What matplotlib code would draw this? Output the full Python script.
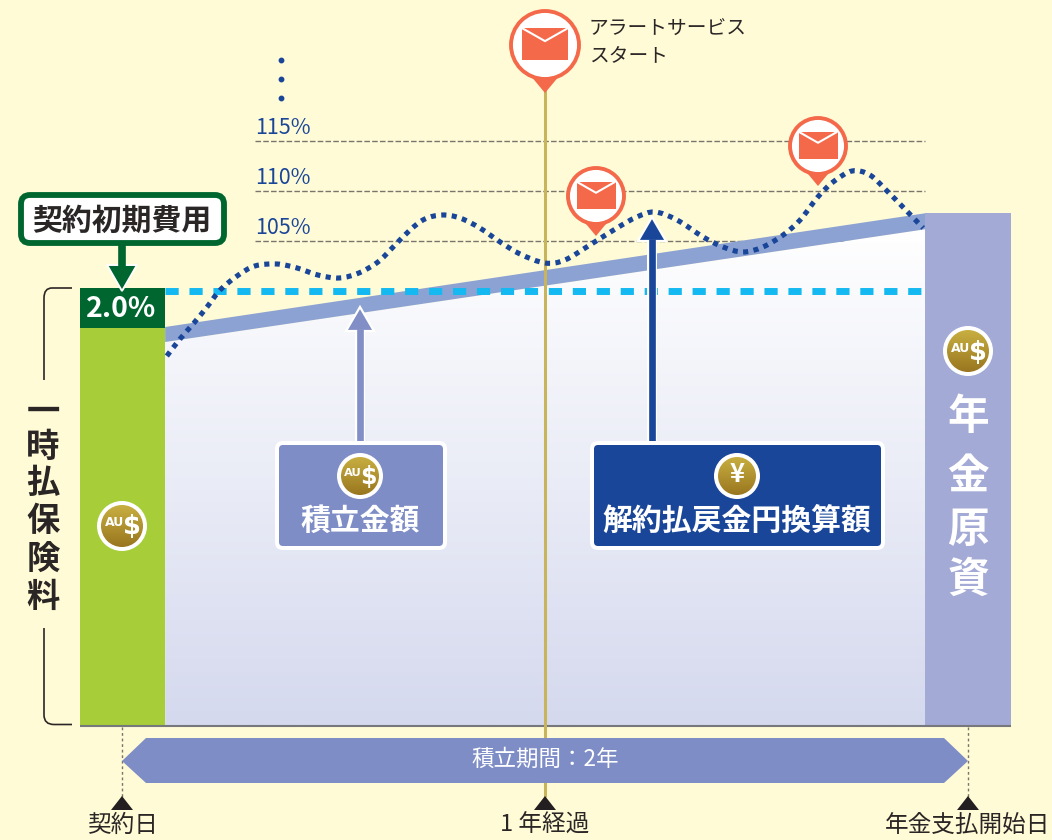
#Pension chart recreated on a pixel grid, curve kept as year / percent values
import numpy as np
import matplotlib
matplotlib.use("Agg")
import matplotlib.pyplot as plt
from matplotlib.patches import Polygon, Circle, FancyBboxPatch, Rectangle, PathPatch
from matplotlib.path import Path

plt.rcParams['font.family'] = ['Noto Sans CJK JP', 'DejaVu Sans']

# data
refund_years = [0.106, 0.137, 0.170, 0.201, 0.232, 0.272, 0.314, 0.366, 0.414, 0.463, 0.513,
                0.560, 0.605, 0.641, 0.681, 0.716, 0.757, 0.799, 0.846, 0.894, 0.941, 1.000,
                1.047, 1.106, 1.170, 1.217, 1.260, 1.312, 1.374, 1.421, 1.468, 1.515, 1.563,
                1.603, 1.645, 1.681, 1.726, 1.768, 1.811, 1.846, 1.894]
refund_pct = [93.5, 95.2, 96.8, 98.4, 100.1, 101.5, 102.5, 102.7, 102.3, 101.6, 101.3,
              101.8, 102.9, 104.4, 106.1, 107.2, 107.6, 107.3, 106.3, 104.9, 103.7, 102.8,
              103.1, 104.6, 106.3, 107.4, 107.9, 107.1, 105.4, 104.4, 103.9, 104.4, 105.6,
              107.1, 109.4, 110.9, 112.0, 111.6, 109.9, 108.4, 106.3]
level_pct = [105, 110, 115]
level_labels = ['105%', '110%', '115%']
saved_years = [0.102, 1.903]
saved_top_pct = [96.4, 107.8]
saved_bottom_pct = [94.9, 106.2]
time_years = [0, 1, 2]
time_labels = ['契約日', '1 年経過', '年金支払開始日']
side_word = '一時払保険料'
base_word = '年金原資'

BG = '#fffbd6'
GREEN = '#a7ce38'
DARK_GREEN = '#00662f'
NAVY = '#1a4699'
PERIWINKLE = '#7e8dc6'
BAND = '#8ca2d2'
RIGHT_BAR = '#a3aad6'
ORANGE = '#f4694a'
INK = '#2b2626'


def x_of(year):
    return 122 + np.asarray(year) * 423


def y_of(pct):
    return 291 - (np.asarray(pct) - 100) * 10


def smooth_path(x, y):
    # bezier pieces through the read points, no extra points are invented for the data
    pts = np.column_stack([x, y])
    verts = [pts[0]]
    codes = [Path.MOVETO]
    for i in range(len(pts) - 1):
        before = pts[max(i - 1, 0)]
        after = pts[min(i + 2, len(pts) - 1)]
        verts += [pts[i] + (pts[i + 1] - before) / 6, pts[i + 1] - (after - pts[i]) / 6, pts[i + 1]]
        codes += [Path.CURVE4] * 3
    return Path(verts, codes)


def gradient(ax, extent, top, bottom, clip, zorder):
    c1 = np.array(matplotlib.colors.to_rgb(top))
    c2 = np.array(matplotlib.colors.to_rgb(bottom))
    t = np.linspace(0, 1, 256)[:, None, None]
    img = c1[None, None, :] * (1 - t) + c2[None, None, :] * t
    im = ax.imshow(img, extent=extent, aspect='auto', zorder=zorder, interpolation='bilinear')
    im.set_clip_path(clip)


def coin(ax, cx, cy, r, kind='au'):
    ax.add_patch(Circle((cx, cy), r, fc='white', ec='none', zorder=12))
    c = Circle((cx, cy), r - 4, fc='none', ec='none', zorder=12)
    ax.add_patch(c)
    gradient(ax, [cx - r, cx + r, cy + r, cy - r], '#cdb544', '#94701c', c, 13)
    if kind == 'au':
        ax.text(cx - r * 0.30, cy - r * 0.12, 'AU', color='white', fontsize=r * 0.36, weight='bold',
                ha='center', va='center', zorder=14, family='DejaVu Sans')
        ax.text(cx + r * 0.38, cy + r * 0.06, '$', color='white', fontsize=r * 0.74, weight='bold',
                ha='center', va='center', zorder=14, family='DejaVu Sans')
    else:
        ax.text(cx, cy - 1, '¥', color='white', fontsize=r * 0.8, weight='bold',
                ha='center', va='center', zorder=14)


def pin(ax, cx, cy, r, tip):
    half = r * 0.36
    ax.add_patch(Polygon([(cx - half, cy + r * 0.9), (cx + half, cy + r * 0.9), (cx, tip)],
                         fc=ORANGE, ec='none', zorder=9))
    ax.add_patch(Circle((cx, cy), r - 2, fc='white', ec=ORANGE, lw=2.8, zorder=9))
    w, h = r * 0.65, r * 0.44
    top, bottom = cy - h - r * 0.02, cy + h - r * 0.02
    ax.add_patch(Rectangle((cx - w, top), 2 * w, bottom - top, fc=ORANGE, ec='none', zorder=10))
    ax.plot([cx - w + 1, cx, cx + w - 1], [top, top + h * 0.8, top], color='white', lw=1.5, zorder=11,
            solid_joinstyle='miter')


def up_arrow(ax, x, tip, base, bottom, color):
    ax.plot([x, x], [bottom, base], color='white', lw=7.2, zorder=6, solid_capstyle='butt')
    ax.add_patch(Polygon([(x - 14, base), (x + 14, base), (x, tip)], fc=color, ec='white', lw=1.6,
                         zorder=7, joinstyle='miter'))
    ax.plot([x, x], [bottom, base - 2], color=color, lw=4.8, zorder=7.5, solid_capstyle='butt')


def label_box(ax, x0, x1, y0, y1, color):
    ax.add_patch(FancyBboxPatch((x0, y0), x1 - x0, y1 - y0, boxstyle='round,pad=0,rounding_size=8',
                                fc='white', ec='none', zorder=8))
    ax.add_patch(FancyBboxPatch((x0 + 4, y0 + 4), x1 - x0 - 8, y1 - y0 - 8,
                                boxstyle='round,pad=0,rounding_size=4', fc=color, ec='none', zorder=9))


fig = plt.figure(figsize=(10.52, 8.40), dpi=100, facecolor=BG)
ax = fig.add_axes([0, 0, 1, 1])
ax.set_facecolor(BG)

# reference levels
for pct, lab in zip(level_pct, level_labels):
    ax.plot([255, 925], [y_of(pct)] * 2, color='#77756c', lw=1.0, dashes=(4, 1.6), zorder=1)
    ax.text(255, y_of(pct) - 13, lab, color=NAVY, fontsize=15.5, ha='left', va='center')
ax.plot([281, 281, 281], [60, 79, 98], ls='none', marker='o', ms=3.2, color=NAVY, zorder=1)

# saved amount: gradient area and band
xs = x_of(saved_years)
top = y_of(saved_top_pct)
bottom = y_of(saved_bottom_pct)
area = Polygon([(xs[0], bottom[0]), (xs[1], bottom[1]), (xs[1], 725), (xs[0], 725)], fc='none', ec='none')
ax.add_patch(area)
gradient(ax, [165, 925, 725, 229], '#ffffff', '#d5d9ee', area, 2)
ax.add_patch(Polygon([(xs[0], top[0]), (xs[1], top[1]), (xs[1], bottom[1]), (xs[0], bottom[0])],
                     fc=BAND, ec='none', zorder=2))

# bars
ax.add_patch(Rectangle((80, 328), 85, 397, fc=GREEN, ec='none', zorder=3))
ax.add_patch(Rectangle((80, 288), 85, 40, fc=DARK_GREEN, ec='none', zorder=3))
ax.add_patch(Rectangle((925, 213), 86, 512, fc=RIGHT_BAR, ec='none', zorder=3))
ax.plot([80, 1011], [725.5, 725.5], color='#77787c', lw=1.5, zorder=4, solid_capstyle='butt')
ax.text(121, 309, '2.0%', color='white', fontsize=20.5, weight='bold', ha='center', va='center', zorder=5)

# one year line
ax.plot([545, 545], [90, 797], color='#c8b45a', lw=2.2, zorder=4, solid_capstyle='butt')

# 100% line and refund curve
ax.plot([165, 925], [291, 291], color='#13b9f0', lw=5, dashes=(1.9, 1.55), zorder=4, solid_capstyle='butt')
ax.add_patch(PathPatch(smooth_path(x_of(refund_years), y_of(refund_pct)), fc='none', ec=NAVY, lw=3.7,
                       ls=(0, (1, 1.05)), capstyle='butt', zorder=5))

# arrows and label boxes
up_arrow(ax, 360, 307, 331, 445, '#828fc6')
up_arrow(ax, 652, 217, 241, 445, NAVY)
label_box(ax, 275, 447, 441, 550, PERIWINKLE)
label_box(ax, 590, 885, 441, 550, NAVY)
coin(ax, 360, 476, 23)
coin(ax, 737, 476, 23, 'yen')
ax.text(360, 521, '積立金額', color='white', fontsize=21.5, weight='bold', ha='center', va='center', zorder=12)
ax.text(737, 521, '解約払戻金円換算額', color='white', fontsize=21.5, weight='bold', ha='center', va='center', zorder=12)
coin(ax, 122, 526, 25)
coin(ax, 968, 351, 25)

# alert pins
pin(ax, 545, 45, 36, 93)
pin(ax, 596, 196, 30, 236)
pin(ax, 818, 146, 30, 186)
ax.text(589, 29, 'アラートサービス', color=INK, fontsize=14.2, ha='left', va='center')
ax.text(589, 56, 'スタート', color=INK, fontsize=14.2, ha='left', va='center')

# initial cost callout
ax.add_patch(FancyBboxPatch((21, 195), 203, 48, boxstyle='round,pad=0,rounding_size=9',
                            fc='white', ec=DARK_GREEN, lw=4.2, zorder=6))
ax.text(122, 221, '契約初期費用', color=INK, fontsize=21.5, weight='bold', ha='center', va='center', zorder=7)
ax.add_patch(Polygon([(107, 265), (137, 265), (122, 291)], fc=DARK_GREEN, ec='white', lw=1.4, zorder=6))
ax.plot([122, 122], [245, 268], color=DARK_GREEN, lw=5.5, zorder=6.5, solid_capstyle='butt')

# side bracket and words
ax.add_patch(PathPatch(Path([(72, 288), (52, 288), (44, 288), (44, 298), (44, 380)],
                            [Path.MOVETO, Path.LINETO, Path.CURVE3, Path.CURVE3, Path.LINETO]),
                       fc='none', ec=INK, lw=1.2, zorder=3))
ax.add_patch(PathPatch(Path([(44, 628), (44, 715), (44, 724.5), (54, 724.5), (72, 724.5)],
                            [Path.MOVETO, Path.LINETO, Path.CURVE3, Path.CURVE3, Path.LINETO]),
                       fc='none', ec=INK, lw=1.2, zorder=3))
for ch, y in zip(side_word, [412, 447, 484, 522, 559, 597]):
    ax.text(43, y, ch, color=INK, fontsize=24, weight='bold', ha='center', va='center')
for ch, y in zip(base_word, [417, 477, 530, 580]):
    ax.text(968, y, ch, color='white', fontsize=30, weight='bold', ha='center', va='center', zorder=5)

# time axis
for yr in [0, 2]:
    ax.plot([x_of(yr)] * 2, [727, 797], color='#77756c', lw=1, dashes=(2, 2), zorder=3)
ax.add_patch(Polygon([(122, 761), (146, 738), (944, 738), (968, 761), (944, 783), (146, 783)],
                     fc=PERIWINKLE, ec='none', zorder=6))
ax.text(545, 759, '積立期間：2年', color='white', fontsize=16.2, ha='center', va='center', zorder=7)
for yr, lab in zip(time_years, time_labels):
    cx = x_of(yr)
    ax.add_patch(Polygon([(cx - 11, 810), (cx + 11, 810), (cx, 796)], fc='#231f20', ec='none', zorder=7))
    ax.text(cx, 825, lab, color=INK, fontsize=17, ha='center', va='center', zorder=7)

ax.set_xlim(0, 1052)
ax.set_ylim(840, 0)
ax.axis('off')

fig.savefig('out.png', dpi=100, facecolor=BG)
